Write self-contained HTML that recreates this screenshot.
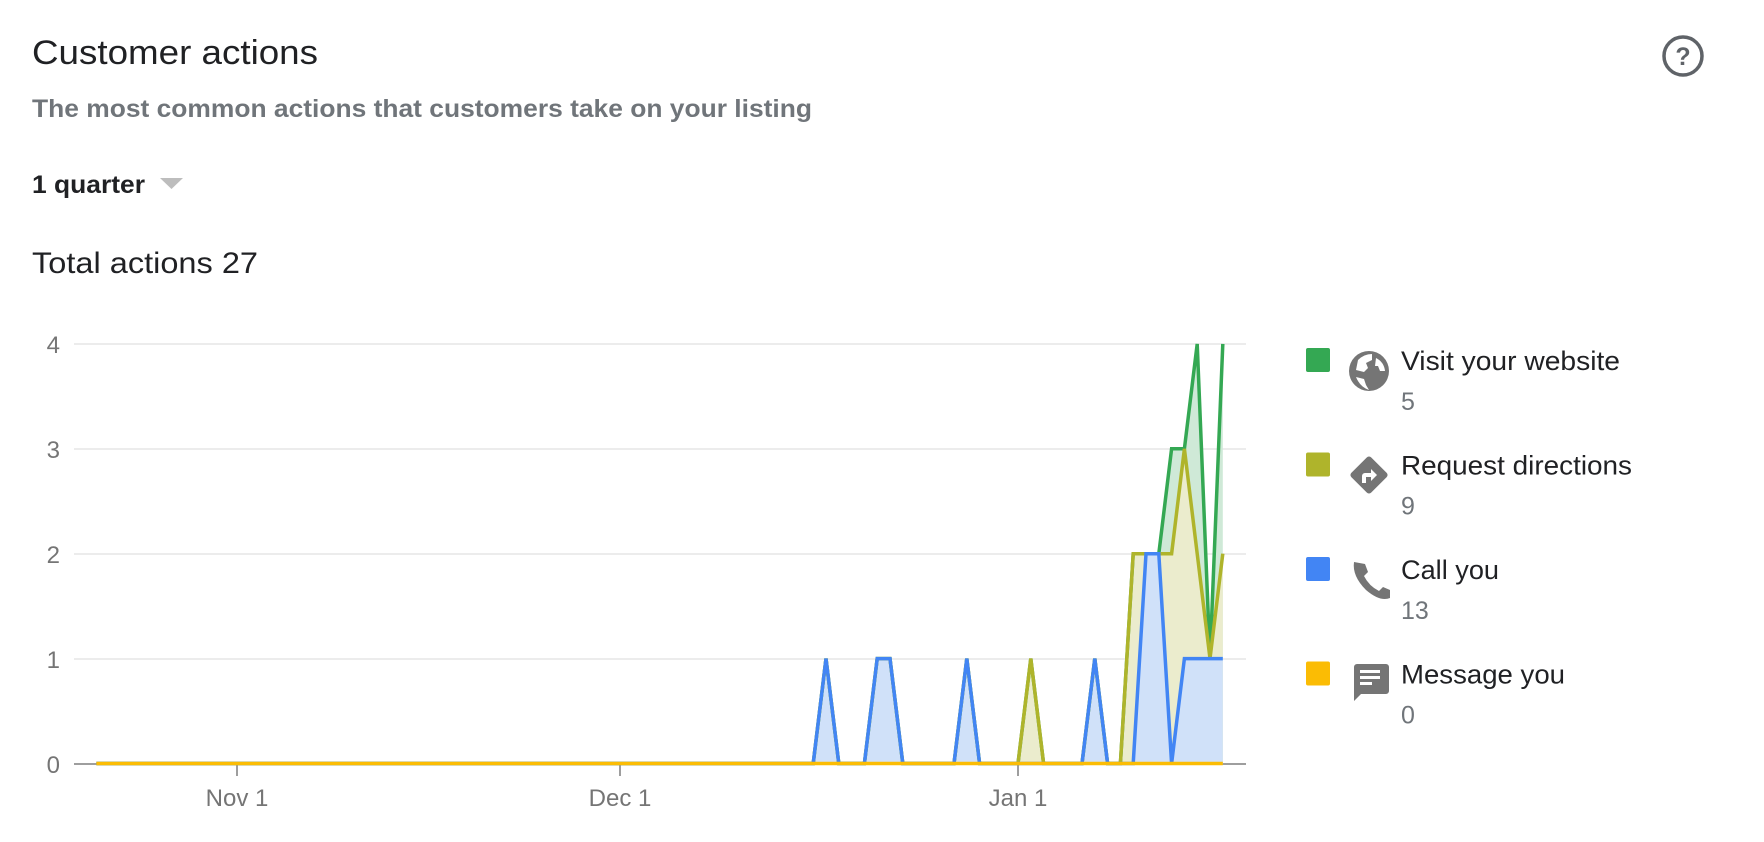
<!DOCTYPE html>
<html><head><meta charset="utf-8"><style>
html,body{margin:0;padding:0;background:#fff;}
svg{display:block;}
text{font-family:"Liberation Sans",Arial,sans-serif;}
</style></head><body>
<svg width="1764" height="842" viewBox="0 0 1764 842" xmlns="http://www.w3.org/2000/svg">
<text x="32" y="64" font-size="34" fill="#202124" textLength="286" lengthAdjust="spacingAndGlyphs">Customer actions</text>
<text x="32" y="117" font-size="25" font-weight="bold" fill="#70757a" textLength="780" lengthAdjust="spacingAndGlyphs">The most common actions that customers take on your listing</text>
<text x="32" y="193" font-size="25" font-weight="bold" fill="#202124" textLength="113" lengthAdjust="spacingAndGlyphs">1 quarter</text>
<polygon points="160,178 183,178 171.5,189" fill="#bdbdbd"/>
<text x="32" y="273" font-size="30" fill="#202124" textLength="226" lengthAdjust="spacingAndGlyphs">Total actions 27</text>
<circle cx="1683" cy="56" r="19" fill="none" stroke="#5f6368" stroke-width="3.5"/>
<text x="1683" y="65" font-size="25" font-weight="bold" fill="#5f6368" text-anchor="middle">?</text>
<g stroke="#ececec" stroke-width="2">
<line x1="74" y1="344" x2="1246" y2="344"/><line x1="74" y1="449" x2="1246" y2="449"/><line x1="74" y1="554" x2="1246" y2="554"/><line x1="74" y1="659" x2="1246" y2="659"/>
</g>
<line x1="74" y1="764" x2="1246" y2="764" stroke="#9e9e9e" stroke-width="2"/>
<g stroke="#9e9e9e" stroke-width="2"><line x1="237" y1="765" x2="237" y2="776"/><line x1="620" y1="765" x2="620" y2="776"/><line x1="1018" y1="765" x2="1018" y2="776"/></g>
<g font-size="24" fill="#757575" text-anchor="end">
<text x="60" y="353">4</text><text x="60" y="458">3</text><text x="60" y="563">2</text><text x="60" y="668">1</text><text x="60" y="773">0</text>
</g>
<g font-size="24" fill="#757575" text-anchor="middle">
<text x="237" y="806">Nov 1</text><text x="620" y="806">Dec 1</text><text x="1018" y="806">Jan 1</text>
</g>
<polygon fill="#cfe9d7" points="96.4,763.5 813.2,763.5 826,658.6 838.8,763.5 864.4,763.5 877.2,658.6 890,658.6 902.8,763.5 954,763.5 966.8,658.6 979.6,763.5 1018,763.5 1030.8,658.6 1043.6,763.5 1082,763.5 1094.8,658.6 1107.6,763.5 1120.4,763.5 1133.2,553.7 1146,553.7 1158.8,553.7 1171.6,448.8 1184.4,448.8 1197.2,343.9 1210,658.6 1222.8,343.9 1222.8,763.5"/>
<polygon fill="#ebeccd" points="96.4,763.5 813.2,763.5 826,658.6 838.8,763.5 864.4,763.5 877.2,658.6 890,658.6 902.8,763.5 954,763.5 966.8,658.6 979.6,763.5 1018,763.5 1030.8,658.6 1043.6,763.5 1082,763.5 1094.8,658.6 1107.6,763.5 1120.4,763.5 1133.2,553.7 1146,553.7 1158.8,553.7 1171.6,553.7 1184.4,448.8 1197.2,553.7 1210,658.6 1222.8,553.7 1222.8,763.5"/>
<polygon fill="#d0e1f9" points="96.4,763.5 813.2,763.5 826,658.6 838.8,763.5 864.4,763.5 877.2,658.6 890,658.6 902.8,763.5 954,763.5 966.8,658.6 979.6,763.5 1082,763.5 1094.8,658.6 1107.6,763.5 1133.2,763.5 1146,553.7 1158.8,553.7 1171.6,763.5 1184.4,658.6 1197.2,658.6 1210,658.6 1222.8,658.6 1222.8,763.5"/>
<g fill="none" stroke-width="3.5" stroke-linejoin="miter">
<polyline stroke="#34a853" points="96.4,763.5 813.2,763.5 826,658.6 838.8,763.5 864.4,763.5 877.2,658.6 890,658.6 902.8,763.5 954,763.5 966.8,658.6 979.6,763.5 1018,763.5 1030.8,658.6 1043.6,763.5 1082,763.5 1094.8,658.6 1107.6,763.5 1120.4,763.5 1133.2,553.7 1146,553.7 1158.8,553.7 1171.6,448.8 1184.4,448.8 1197.2,343.9 1210,658.6 1222.8,343.9"/>
<polyline stroke="#afb42b" points="96.4,763.5 813.2,763.5 826,658.6 838.8,763.5 864.4,763.5 877.2,658.6 890,658.6 902.8,763.5 954,763.5 966.8,658.6 979.6,763.5 1018,763.5 1030.8,658.6 1043.6,763.5 1082,763.5 1094.8,658.6 1107.6,763.5 1120.4,763.5 1133.2,553.7 1146,553.7 1158.8,553.7 1171.6,553.7 1184.4,448.8 1197.2,553.7 1210,658.6 1222.8,553.7"/>
<polyline stroke="#4285f4" points="96.4,763.5 813.2,763.5 826,658.6 838.8,763.5 864.4,763.5 877.2,658.6 890,658.6 902.8,763.5 954,763.5 966.8,658.6 979.6,763.5 1082,763.5 1094.8,658.6 1107.6,763.5 1133.2,763.5 1146,553.7 1158.8,553.7 1171.6,763.5 1184.4,658.6 1197.2,658.6 1210,658.6 1222.8,658.6"/>
<line stroke="#fbbc04" x1="96.4" y1="763.5" x2="1222.8" y2="763.5"/>
</g>
<rect x="1306" y="348" width="24" height="24" rx="2" fill="#34a853"/>
<rect x="1306" y="452.5" width="24" height="24" rx="2" fill="#afb42b"/>
<rect x="1306" y="557" width="24" height="24" rx="2" fill="#4285f4"/>
<rect x="1306" y="661.5" width="24" height="24" rx="2" fill="#fbbc04"/>
<circle cx="1369" cy="371" r="20" fill="#757575"/>
<path d="M1358,360 q6,-6 14,-6 l0,6 l-6,3 l2,5 l-4,4 l-8,-2 z" fill="#fff"/>
<path d="M1376,358 q8,4 9,13 l-5,0 l-2,-5 l-3,0 z" fill="#fff"/>
<path d="M1356,377 l8,2 l2,6 l3,5 q-9,-3 -13,-13 z" fill="#fff"/>
<rect x="1355" y="461" width="28" height="28" rx="3" fill="#757575" transform="rotate(45 1369 475)"/>
<path d="M1362,483 v-7 a3,3 0 0 1 3,-3 h6 v-4 l6,6 l-6,6 v-4 h-5 v6 z" fill="#fff"/>
<path d="M1354,562 q-2,14 12,28 q14,12 24,8 l0,-8 l-7,-3 l-4,4 q-10,-5 -15,-15 l4,-4 l-3,-8 z" fill="#757575"/>
<path d="M1354,664 h32 a3,3 0 0 1 3,3 v24 a3,3 0 0 1 -3,3 h-25 l-7,7 v-34 a3,3 0 0 1 3,-3 z" fill="#757575"/>
<g fill="#fff"><rect x="1360" y="670" width="20" height="3"/><rect x="1360" y="676" width="20" height="3"/><rect x="1360" y="682" width="12" height="3"/></g>
<g font-size="27" fill="#202124">
<text x="1401" y="370" textLength="219" lengthAdjust="spacingAndGlyphs">Visit your website</text>
<text x="1401" y="474.5" textLength="231" lengthAdjust="spacingAndGlyphs">Request directions</text>
<text x="1401" y="579" textLength="98" lengthAdjust="spacingAndGlyphs">Call you</text>
<text x="1401" y="683.5" textLength="164" lengthAdjust="spacingAndGlyphs">Message you</text>
</g>
<g font-size="25" fill="#70757a">
<text x="1401" y="410">5</text><text x="1401" y="514.5">9</text><text x="1401" y="619">13</text><text x="1401" y="723.5">0</text>
</g>
</svg>
</body></html>
